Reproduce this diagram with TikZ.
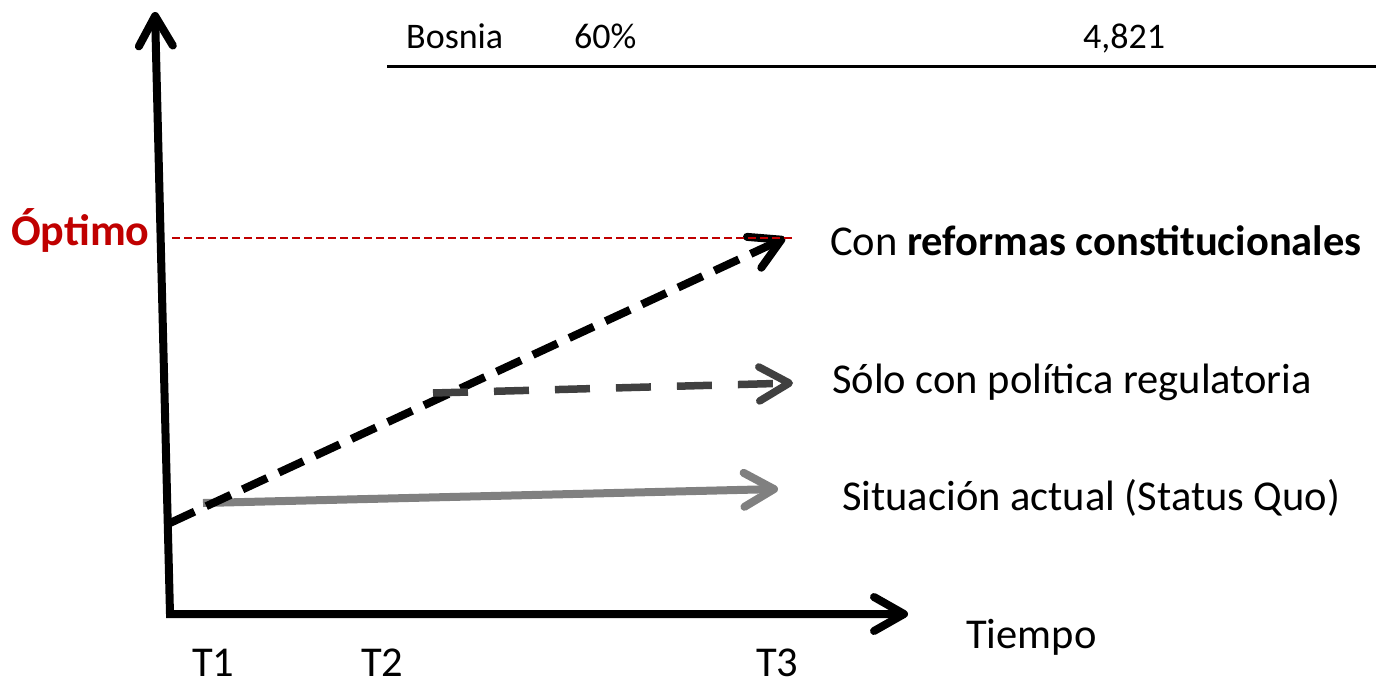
\documentclass[tikz,border=0pt]{standalone}
\usepackage{fontspec}
\setmainfont{Carlito}
\usetikzlibrary{arrows.meta}
\definecolor{optred}{HTML}{C00000}
\definecolor{darkg}{HTML}{404040}
\definecolor{midg}{HTML}{808080}
\begin{document}
\begin{tikzpicture}[x=1pt,y=-1pt,
  chev/.tip={Straight Barb[length=30pt,width=34pt,round]},
  lbl/.style={anchor=base west,inner sep=0pt,font=\fontsize{42.5}{50}\selectfont},
  toplbl/.style={anchor=base west,inner sep=0pt,font=\fontsize{36}{42}\selectfont},
  axis/.style={line width=8pt,black,line join=miter},
]
\useasboundingbox (0,0) rectangle (1376,683);
% table fragment
\node[toplbl] (bos) at (406,48) {Bosnia};
\node[toplbl] (pct) at (574,48) {60\%};
\node[toplbl] (num) at (1083,48) {4,821};
\coordinate (rl) at (387,66);
\coordinate (rr) at (1376,66);
\draw[line width=3pt] (rl) -- (rr);
% axes
\coordinate (ytop) at (155,12);
\coordinate (orig) at (170,614);
\coordinate (xend) at (908,614);
\draw[axis,{chev}-{chev}] (ytop) -- (orig) -- (xend);
% lines
\coordinate (sqs) at (203,503);
\coordinate (sqe) at (778,489);
\coordinate (crs) at (170,523);
\coordinate (cre) at (785,238);
\coordinate (prs) at (433,393);
\coordinate (pre) at (793,383);
\coordinate (opl) at (172,238);
\coordinate (opr) at (795,238);
\draw[line width=8pt,midg,-{chev}] (sqs) -- (sqe);
\draw[line width=8pt,black,dash pattern=on 27pt off 13pt,-{chev}] (crs) -- (cre);
\draw[line width=7.5pt,darkg,dash pattern=on 35pt off 26pt,-{chev}] (prs) -- (pre);
\draw[line width=2pt,optred,dash pattern=on 8pt off 4pt] (opl) -- (opr);
% labels
\node[lbl,text=optred,font=\fontsize{44}{52}\selectfont\bfseries] (opt) at (11,245) {Óptimo};
\node[lbl] (cr) at (830,255) {Con \textbf{reformas constitucionales}};
\node[lbl] (pr) at (832,393) {Sólo con política regulatoria};
\node[lbl] (sq) at (842,510) {Situación actual (Status Quo)};
\node[lbl] (tiempo) at (966,648) {Tiempo};
\node[lbl] (t1) at (192,676) {T1};
\node[lbl] (t2) at (361,676) {T2};
\node[lbl] (t3) at (756,676) {T3};
\end{tikzpicture}
\end{document}
